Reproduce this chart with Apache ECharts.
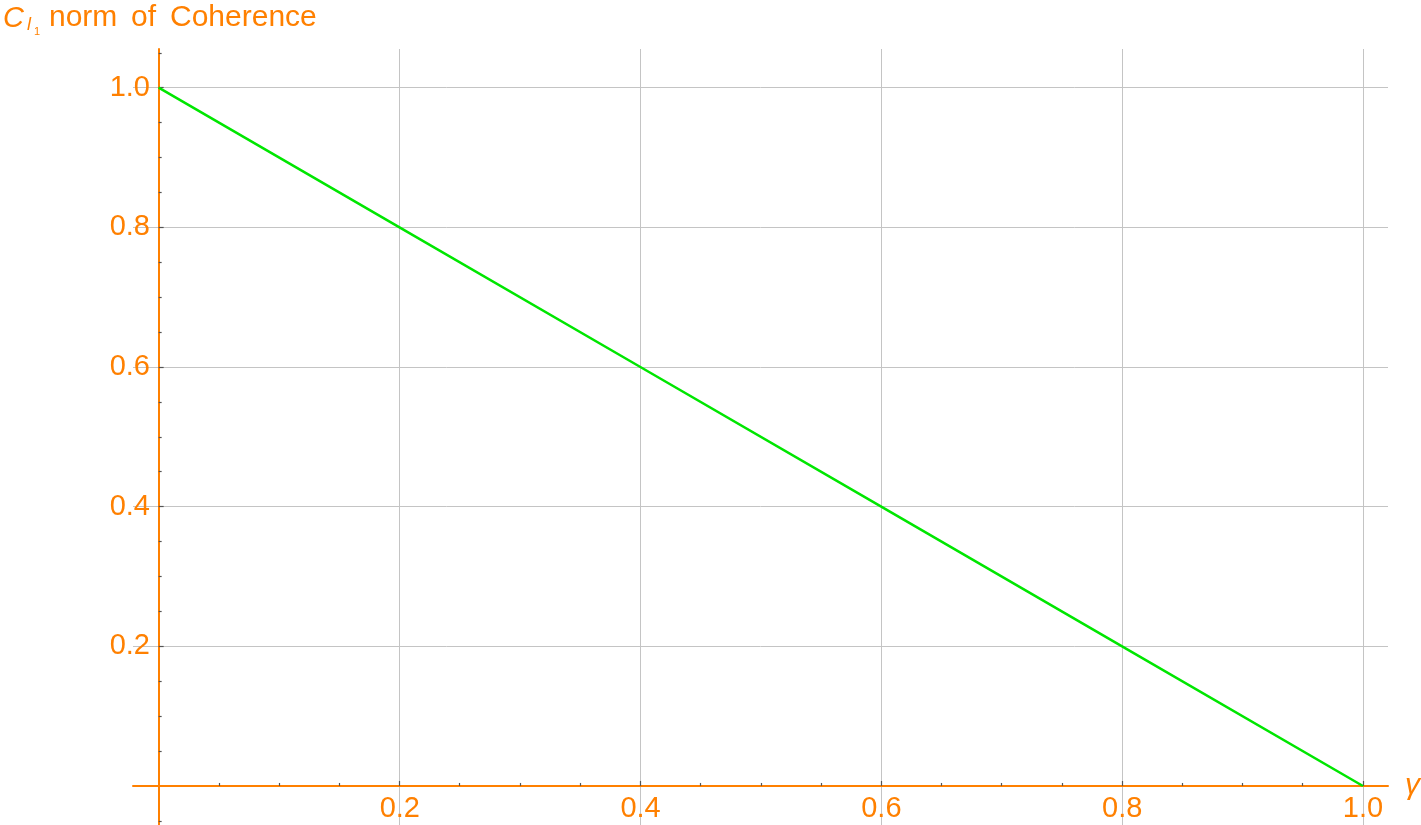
<!DOCTYPE html>
<html>
<head>
<meta charset="utf-8">
<script src="https://cdn.jsdelivr.net/npm/echarts@6/dist/echarts.min.js"></script>
<style>html,body{margin:0;padding:0;background:#fff;}#c{width:1421px;height:825px;}</style>
</head>
<body>
<div id="c"></div>
<script>
// ---- data ----
var gammaValues = [0, 0.2, 0.4, 0.6, 0.8, 1.0];
var coherenceValues = [1.0, 0.8, 0.6, 0.4, 0.2, 0.0];
var xMajorTicks = [0.2, 0.4, 0.6, 0.8, 1.0];
var yMajorTicks = [0.2, 0.4, 0.6, 0.8, 1.0];
var xMinorTicks = [0.05, 0.1, 0.15, 0.25, 0.3, 0.35, 0.45, 0.5, 0.55, 0.65, 0.7, 0.75, 0.85, 0.9, 0.95];
var yMinorTicks = [-0.05, 0.05, 0.1, 0.15, 0.25, 0.3, 0.35, 0.45, 0.5, 0.55, 0.65, 0.7, 0.75, 0.85, 0.9, 0.95, 1.05];
var xRange = [-0.0213, 1.0208];
var yRange = [-0.0559, 1.0554];

var ORANGE = '#ff8000';
var FONT = '"Liberation Sans", Arial, sans-serif';

var chart = echarts.init(document.getElementById('c'), null, {renderer: 'canvas'});

function fmt(v) { return v.toFixed(1); }

var option = {
  backgroundColor: '#fff',
  animation: false,
  grid: [
    {left: 133, right: 33, top: 49, bottom: 0, containLabel: false, outerBoundsMode: 'none'},
    {left: 159, right: 33, top: 49, bottom: 39, containLabel: false, outerBoundsMode: 'none'}
  ],
  graphic: [
    {type: 'text', left: 3, top: 4, style: {text: 'C', font: 'italic 29px ' + FONT, fill: ORANGE}},
    {type: 'text', left: 27, top: 16, style: {text: 'l', font: 'italic 18px ' + FONT, fill: ORANGE}},
    {type: 'text', left: 34, top: 26, style: {text: '1', font: '11px ' + FONT, fill: ORANGE}},
    {type: 'text', left: 49, top: 3, style: {text: 'norm', font: '30px ' + FONT, fill: ORANGE}},
    {type: 'text', left: 131, top: 3, style: {text: 'of', font: '30px ' + FONT, fill: ORANGE}},
    {type: 'text', left: 170, top: 3, style: {text: 'Coherence', font: '30px ' + FONT, fill: ORANGE}}
  ],
  xAxis: [
    {
      type: 'value', gridIndex: 0, min: xRange[0], max: xRange[1], position: 'bottom',
      name: 'γ', nameLocation: 'end', nameGap: 17,
      nameTextStyle: {color: ORANGE, fontSize: 30, fontStyle: 'italic', fontFamily: FONT, verticalAlign: 'middle', padding: [16, 0, 0, 0]},
      axisLine: {show: true, onZero: true, lineStyle: {color: ORANGE, width: 2}},
      axisTick: {show: true, inside: true, length: 5, customValues: xMajorTicks, lineStyle: {color: '#555', width: 1.2}},
      axisLabel: {show: false},
      splitLine: {show: true, lineStyle: {color: '#c4c4c4', width: 1}}
    },
    {
      type: 'value', gridIndex: 0, min: xRange[0], max: xRange[1], position: 'bottom',
      axisLine: {show: false, onZero: true, onZeroAxisIndex: 0},
      axisTick: {show: true, inside: true, length: 3, customValues: xMinorTicks, lineStyle: {color: '#555', width: 1.2}},
      axisLabel: {show: false},
      splitLine: {show: false}
    },
    {
      type: 'value', gridIndex: 1, min: 0, max: xRange[1], position: 'bottom',
      axisLine: {show: false},
      axisTick: {show: false, customValues: xMajorTicks},
      axisLabel: {show: true, customValues: xMajorTicks, formatter: fmt, color: ORANGE, fontSize: 29, fontFamily: FONT, margin: 8},
      splitLine: {show: false}
    }
  ],
  yAxis: [
    {
      type: 'value', gridIndex: 0, min: yRange[0], max: yRange[1], position: 'left',
      axisLine: {show: true, onZero: true, lineStyle: {color: ORANGE, width: 2}},
      axisTick: {show: true, inside: true, length: 5, customValues: yMajorTicks, lineStyle: {color: '#555', width: 1.2}},
      axisLabel: {show: false},
      splitLine: {show: true, lineStyle: {color: '#c4c4c4', width: 1}}
    },
    {
      type: 'value', gridIndex: 0, min: yRange[0], max: yRange[1], position: 'left',
      axisLine: {show: false, onZero: true, onZeroAxisIndex: 0},
      axisTick: {show: true, inside: true, length: 3, customValues: yMinorTicks, lineStyle: {color: '#555', width: 1.2}},
      axisLabel: {show: false},
      splitLine: {show: false}
    },
    {
      type: 'value', gridIndex: 1, min: 0, max: yRange[1], position: 'left',
      axisLine: {show: false},
      axisTick: {show: false, customValues: yMajorTicks},
      axisLabel: {show: true, customValues: yMajorTicks, formatter: fmt, color: ORANGE, fontSize: 29, fontFamily: FONT, margin: 9},
      splitLine: {show: false}
    }
  ],
  series: [
    {
      type: 'line', xAxisIndex: 0, yAxisIndex: 0,
      data: gammaValues.map(function (g, i) { return [g, coherenceValues[i]]; }),
      showSymbol: false, symbol: 'none', clip: false,
      lineStyle: {color: '#00e600', width: 2.5},
      z: 5
    }
  ]
};
chart.setOption(option);
</script>
</body>
</html>
